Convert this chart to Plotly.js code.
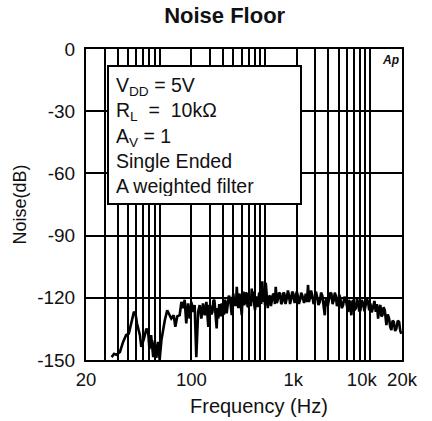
<!DOCTYPE html>
<html>
<head>
<meta charset="utf-8">
<script src="https://cdn.plot.ly/plotly-3.0.1.min.js"></script>
<style>
  html, body { margin: 0; padding: 0; background: #fff; }
  #chart { width: 432px; height: 421px; }
</style>
</head>
<body>
<div id="chart"></div>
<script>
// Frequency (Hz) of each trace point
const freqHz = [
  35, 37, 39, 42, 45, 48, 51, 54, 57, 59,
  61, 65, 67, 71, 75, 78, 80, 83, 87, 90,
  93, 97, 100, 104, 108, 112, 118, 125, 129, 136,
  141, 147, 155, 161, 167, 173, 179, 186, 193, 200,
  208, 215, 223, 232, 240, 249, 258, 268, 278,
  290, 295, 301, 309, 317, 324, 331, 339, 348, 354,
  361, 368, 375, 382, 389, 399, 409, 416, 424, 433,
  443, 454, 466, 475, 484, 492, 501, 510, 520, 530,
  540, 549, 559, 569, 580, 591, 602, 613, 624, 635,
  647, 659, 671, 683, 695, 708, 722, 735, 749, 762,
  776, 790, 805, 820, 836, 851, 866, 882, 899, 921,
  944, 965, 986, 1002, 1018, 1040, 1063, 1090, 1118, 1139,
  1160, 1190, 1220, 1243, 1266, 1294, 1323, 1357, 1392, 1427,
  1463, 1495, 1528, 1568, 1610, 1652, 1694, 1731, 1770, 1814,
  1860, 1911, 1962, 2005, 2048, 2100, 2154, 2209, 2265, 2350,
  2440, 2503, 2566, 2615, 2664, 2741, 2820, 2895, 2972, 3047,
  3124, 3220, 3316, 3410, 3508, 3600, 3698, 3763, 3828, 3945,
  4064, 4168, 4272, 4386, 4502, 4603, 4704, 4823, 4944, 5070,
  5200, 5356, 5516, 5683, 5854, 6000, 6152, 6267, 6384, 6500,
  6616, 6740, 6866, 7070, 7284, 7470, 7656, 7850, 8054, 8295,
  8542, 8800, 9062, 9290, 9528, 9770, 10020, 10320, 10630, 10950,
  11274, 11560, 11858, 12160, 12472, 12750, 13030, 13380, 13732, 13980,
  14224, 14650, 15086, 15470, 15864, 16280, 16712, 17200, 17696, 18230,
  18772, 19250, 19740
];
// Noise level (dB)
const noiseDb = [
  -148.6, -147, -147.5, -146.1, -141.3, -138, -137.3, -131.6, -126.8, -127.6,
  -132.4, -138, -143.7, -139.7, -134.8, -137.3, -144.7, -138, -148.6, -140.5,
  -149, -141.3, -150, -140.4, -134.8, -130.8, -126, -128.4, -130, -128.4,
  -134, -129, -128.4, -122, -125, -121, -132.4, -122.7, -130, -122,
  -126.8, -123.5, -148.6, -126.8, -123.5, -130, -122.7, -128.4, -122,
  -134, -124, -123.5, -128, -126.8, -121.5, -121, -127, -134.8, -125,
  -130, -123, -125, -129, -122.7, -128, -127.6, -121, -122, -127.5,
  -124.4, -119, -120.3, -125.5, -128.4, -121, -118, -124, -119.6, -124,
  -114.7, -121, -125, -118, -119, -124, -128.4, -120, -117, -123.5,
  -122, -117.5, -118, -124, -124.4, -119, -120.3, -124, -115.5, -122,
  -117, -123, -126, -120, -119.6, -124.5, -122, -117.5, -118, -123,
  -112, -122, -117, -123.5, -112.8, -121, -125, -119.5, -119, -124,
  -122, -118.5, -118, -123, -114.7, -122.5, -121, -117.5, -118, -123,
  -122, -117.5, -118, -123, -120.3, -116.5, -119, -123, -121, -117,
  -118, -122.5, -119.6, -117, -119, -123, -121, -117.5, -119, -122.5,
  -118, -122, -113.8, -122, -120.3, -116.5, -119, -123, -121, -117,
  -119.6, -123.5, -122, -117.5, -119, -123, -128.4, -122, -120.3, -124,
  -121, -117.5, -118, -123, -121, -117.5, -119, -124, -122, -118.5,
  -120.3, -125, -123.5, -119.5, -121, -124.5, -126.8, -121, -122, -125.5,
  -128.4, -122, -121, -126, -125, -120.5, -122, -126.5, -126, -121,
  -122.7, -126.5, -123.5, -120.5, -122, -126, -122.7, -127, -124.4, -121.5,
  -126.8, -123, -130, -125, -123.5, -129, -128.4, -124.5, -126, -130,
  -133.2, -128, -130, -134, -135.6, -131, -131.6, -136, -134.8, -131,
  -131.6, -136, -137.3
];
// Axis ticks
const yTicks = [0, -30, -60, -90, -120, -150];
const yTickText = ['0', '-30', '-60', '-90', '-120', '-150'];
const xTickVals = [20, 200, 1860, 8300, 20000];
const xTickText = ['20', '100', '1k', '10k', '20k'];
const xGridVals = [30, 40, 50, 60, 70, 80, 90, 100,
  200, 300, 400, 500, 600, 700, 800, 900, 1000,
  2000, 3000, 4000, 5000, 6000, 7000, 8000, 9000, 10000];
const infoLines = ['V<sub>DD</sub> = 5V', 'R<sub>L</sub>  =  10kΩ', 'A<sub>V</sub> = 1', 'Single Ended', 'A weighted filter'];

const FONT = 'Liberation Sans, Arial, Helvetica, sans-serif';
const INK = '#111';

const trace = {
  x: freqHz, y: noiseDb, type: 'scatter', mode: 'lines',
  line: { color: '#000', width: 2.6 },
  hoverinfo: 'skip', showlegend: false
};

const layout = {
  width: 432, height: 421,
  margin: { l: 86, r: 30, t: 49, b: 61 },
  paper_bgcolor: '#fff', plot_bgcolor: '#fff',
  font: { family: FONT, color: INK, size: 18 },
  title: {
    text: '<b>Noise Floor</b>',
    font: { family: FONT, size: 22, color: INK },
    x: 0.52, xref: 'container', xanchor: 'center',
    y: 0.964, yref: 'container', yanchor: 'middle'
  },
  xaxis: {
    type: 'log',
    range: [Math.log10(20), Math.log10(20000)],
    tickmode: 'array', tickvals: xTickVals, ticktext: xTickText,
    ticks: '', ticklabelstandoff: 2,
    tickfont: { family: FONT, size: 18.5, color: INK },
    showgrid: false, zeroline: false,
    showline: true, mirror: true, linecolor: '#000', linewidth: 2,
    minor: { tickmode: 'array', tickvals: xGridVals, showgrid: true, gridcolor: '#000', gridwidth: 2, ticks: '' },
    fixedrange: true
  },
  yaxis: {
    range: [-150, 0],
    tickmode: 'array', tickvals: yTicks, ticktext: yTickText,
    ticks: '', ticklabelstandoff: 5,
    tickfont: { family: FONT, size: 19, color: INK },
    showgrid: true, gridcolor: '#000', gridwidth: 2, zeroline: false,
    showline: true, mirror: true, linecolor: '#000', linewidth: 2,
    title: { text: 'Noise(dB)', font: { family: FONT, size: 18, color: INK }, standoff: 6 },
    fixedrange: true
  },
  annotations: [
    {
      xref: 'paper', yref: 'paper', x: 0.0665, y: 0.9486,
      xanchor: 'left', yanchor: 'top',
      text: infoLines.join('<br>'),
      align: 'left', valign: 'top',
      width: 177, height: 122,
      font: { family: FONT, size: 19.5, color: INK },
      bgcolor: '#fff', bordercolor: '#000', borderwidth: 2, borderpad: 7,
      showarrow: false
    },
    {
      xref: 'paper', yref: 'paper', x: 0.547, y: -0.148,
      xanchor: 'center', yanchor: 'middle',
      text: 'Frequency (Hz)',
      font: { family: FONT, size: 20, color: INK },
      showarrow: false
    },
    {
      xref: 'paper', yref: 'paper', x: 0.965, y: 0.965,
      xanchor: 'center', yanchor: 'middle',
      text: '<b><i>Ap</i></b>',
      font: { family: FONT, size: 12, color: INK },
      showarrow: false
    }
  ]
};

Plotly.newPlot('chart', [trace], layout, { staticPlot: true, displayModeBar: false });
</script>
</body>
</html>
